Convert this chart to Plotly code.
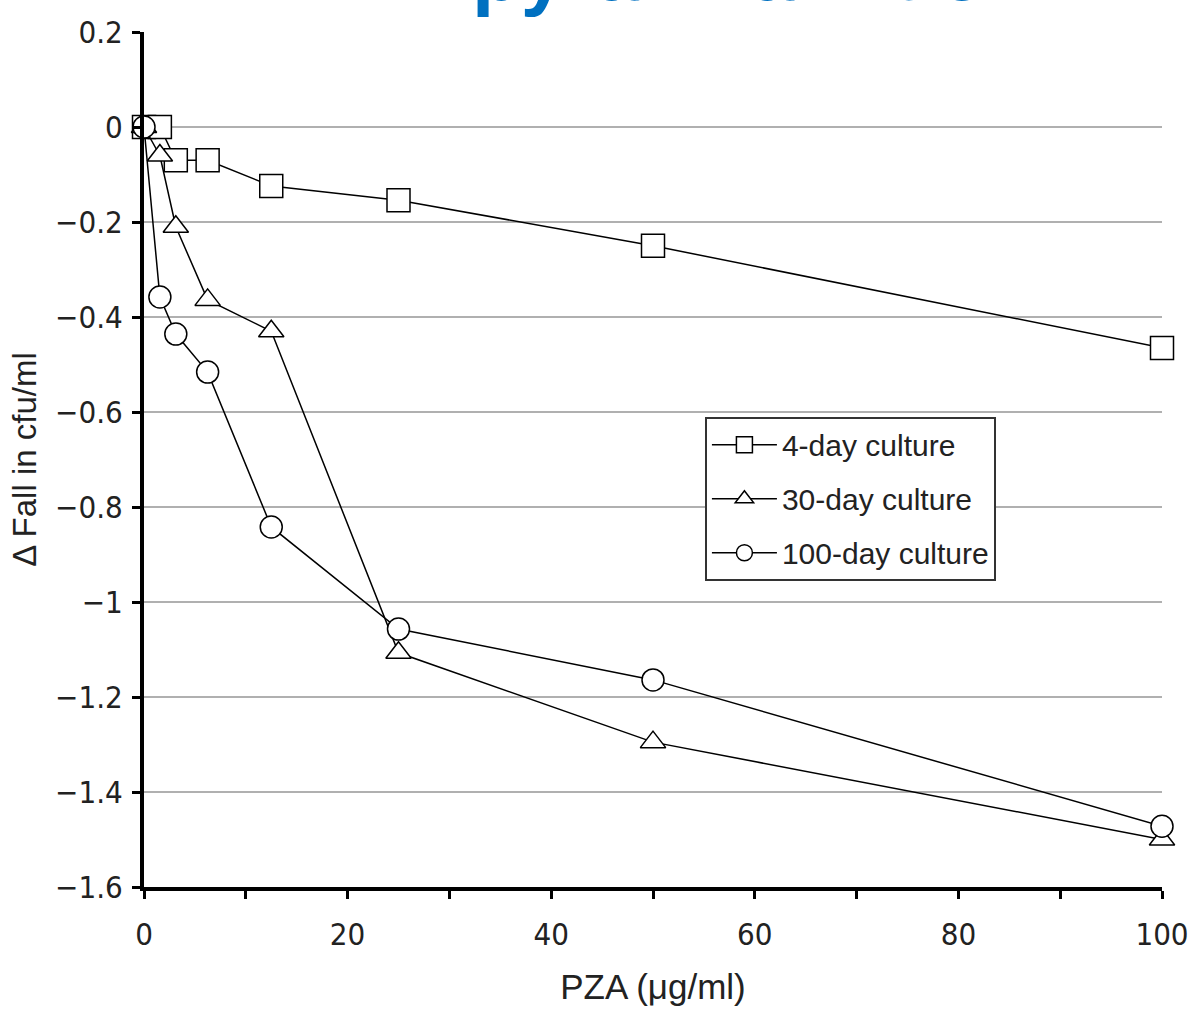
import plotly.graph_objects as go

pza = [0, 1.56, 3.125, 6.25, 12.5, 25, 50, 100]
day4 = [0, 0, -0.07, -0.07, -0.124, -0.154, -0.25, -0.465]
day30 = [0, -0.06, -0.21, -0.364, -0.43, -1.107, -1.295, -1.5]
day100 = [0, -0.358, -0.436, -0.516, -0.842, -1.057, -1.164, -1.472]

series = [
    ("4-day culture", day4, "square", 23),
    ("30-day culture", day30, "triangle-up", 22),
    ("100-day culture", day100, "circle", 22),
]

yticks = [0.2, 0, -0.2, -0.4, -0.6, -0.8, -1, -1.2, -1.4, -1.6]
ytext = ["0.2", "0", "\u22120.2", "\u22120.4", "\u22120.6", "\u22120.8", "\u22121", "\u22121.2", "\u22121.4", "\u22121.6"]
xticks = [0, 10, 20, 30, 40, 50, 60, 70, 80, 90, 100]
xtext = ["0", "", "20", "", "40", "", "60", "", "80", "", "100"]

narrow = "Liberation Sans Narrow, DejaVu Sans Condensed, Arial Narrow, sans-serif"
regular = "Liberation Sans, Arial, sans-serif"

fig = go.Figure()
for i, (name, ys, sym, sz) in enumerate(series):
    fig.add_trace(go.Scatter(
        x=pza, y=ys, name=name, mode="lines+markers", legendgroup=f"g{i}",
        line=dict(color="black", width=1.5),
        marker=dict(symbol=sym, size=sz, color="white", line=dict(color="black", width=1.5)),
        cliponaxis=False,
    ))

fig.add_shape(type="line", xref="x", yref="y", x0=0, x1=100, y0=-0.8, y1=-0.8,
              line=dict(color="black", width=2), layer="below")

fig.add_annotation(text="<b>pyrazinamide</b>", xref="paper", yref="paper",
                   x=0.32, y=1.0, xanchor="left", yanchor="bottom", yshift=13,
                   showarrow=False, font=dict(family=regular, size=80, color="#0070C0"))

fig.update_layout(
    width=1189, height=1018,
    margin=dict(l=144, r=27, t=32, b=131, autoexpand=False),
    plot_bgcolor="white", paper_bgcolor="white",
    font=dict(family=narrow, size=31, color="#222"),
    showlegend=True,
    legend=dict(x=0.551, y=0.55, xanchor="left", yanchor="top",
                bordercolor="#333", borderwidth=2, bgcolor="white",
                font=dict(family=regular, size=30, color="#222"),
                itemwidth=65, tracegroupgap=12),
    xaxis=dict(range=[0, 100], tickvals=xticks, ticktext=xtext,
               showline=True, linecolor="black", linewidth=4,
               ticks="outside", ticklen=8, tickwidth=3, tickcolor="black",
               ticklabelstandoff=9, ticklabeloverflow="allow",
               showgrid=False, zeroline=False,
               title=dict(text="PZA (\u03bcg/ml)", font=dict(family=regular, size=35), standoff=24)),
    yaxis=dict(range=[-1.6, 0.2], tickvals=yticks, ticktext=ytext,
               showline=True, linecolor="black", linewidth=4,
               ticks="outside", ticklen=8, tickwidth=3, tickcolor="black",
               ticklabelstandoff=3, ticklabeloverflow="allow",
               showgrid=True, gridcolor="#b0b0b0", gridwidth=1.5, zeroline=False,
               title=dict(text="\u0394 Fall in cfu/ml", font=dict(family=regular, size=33), standoff=10)),
)

fig.write_html("out.html")
